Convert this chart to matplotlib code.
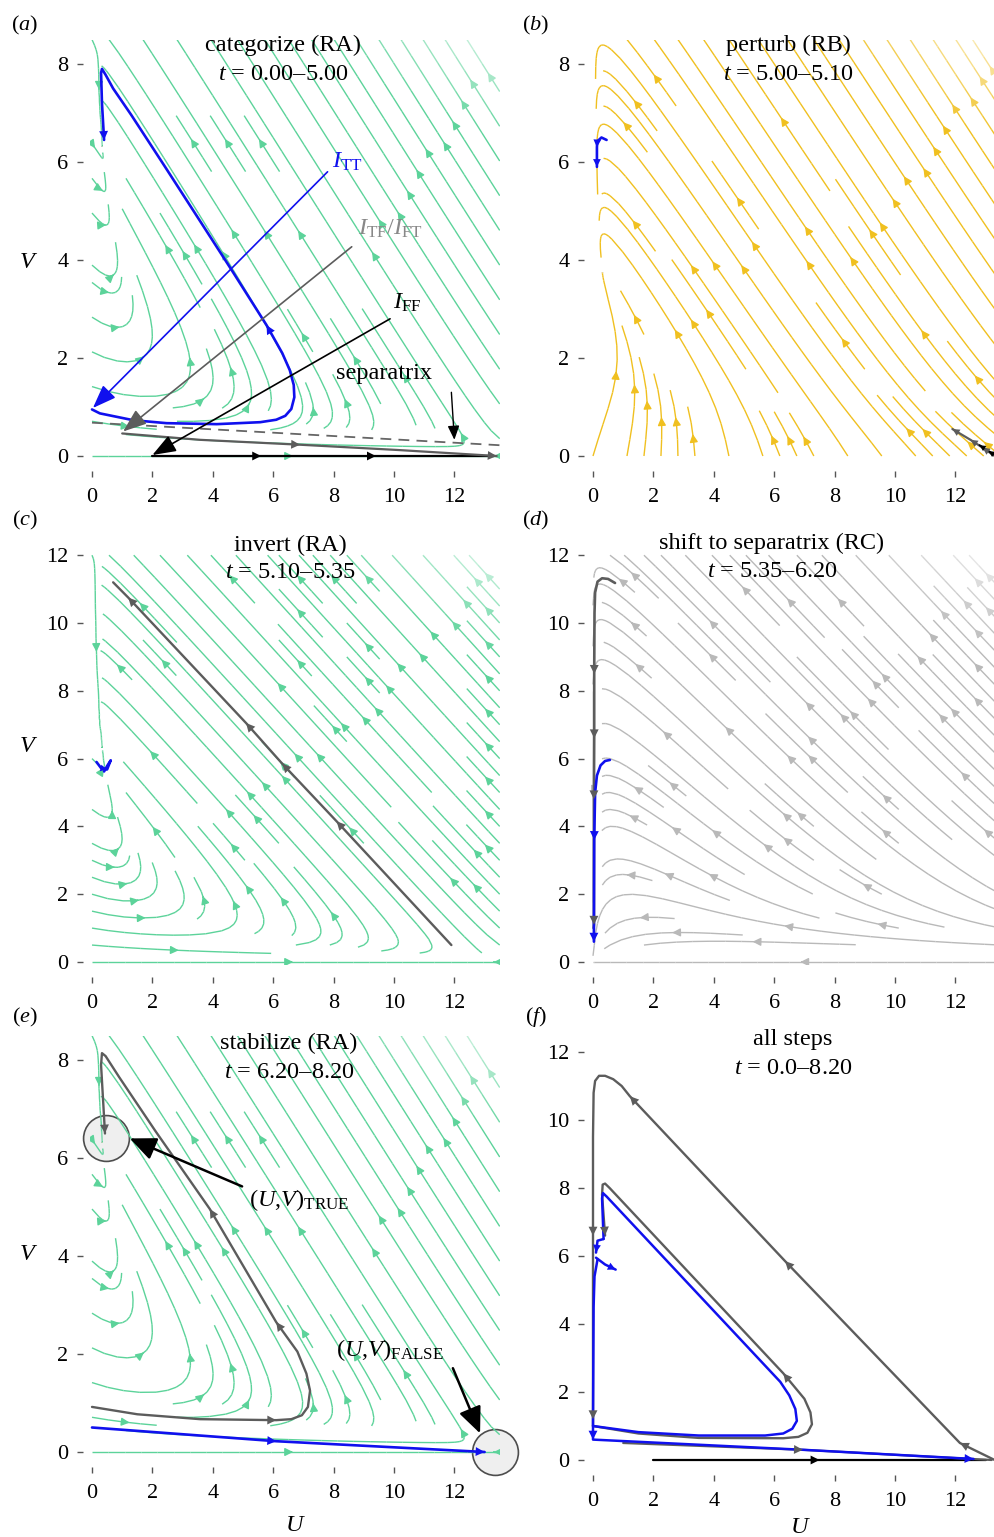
import numpy as np
import matplotlib
matplotlib.use('Agg')
import matplotlib.pyplot as plt
from matplotlib.colors import LinearSegmentedColormap, Normalize, to_rgb

plt.rcParams['font.family'] = ['Liberation Serif', 'DejaVu Serif']
plt.rcParams['mathtext.fontset'] = 'custom'
plt.rcParams['mathtext.rm'] = 'Liberation Serif'
plt.rcParams['mathtext.it'] = 'Liberation Serif:italic'
plt.rcParams['font.size'] = 16

W, H = 995, 1537

# regime parameters (a, b, c, d, e):  dU = a - bU - cUV^2 ,  dV = e + cUV^2 - dV
RA = [13.3, 1.0, 0.93, 2.05, 0.0]
RB = [2.7, 1.0, 0.56, 2.13, 5.6]
RC = [0.0, 3.75, 1.0, 2.5, 0.0]

GREEN = '#5cd39a'
YELLOW = '#f0c020'
LGRAY = '#b9b9b9'
BLUE = '#1010ee'
DGRAY = '#5c5c5c'

# ---- trajectories (U, V) ----
# (a)
a_blue_u = [0.0, 0.26, 1.37, 2.47, 4.13, 5.57, 6.1, 6.4, 6.6, 6.7, 6.68, 6.55, 6.3, 5.78, 4.64, 3.5,
            2.4, 1.3, 0.7, 0.45, 0.33, 0.3, 0.33, 0.40]
a_blue_v = [0.95, 0.87, 0.73, 0.67, 0.65, 0.69, 0.74, 0.82, 0.96, 1.2, 1.45, 1.75, 2.1, 2.67, 3.78, 4.87,
            5.92, 6.96, 7.5, 7.78, 7.9, 7.82, 7.2, 6.45]
a_gray_u = [1.0, 3.58, 6.89, 10.2, 13.4]
a_gray_v = [0.46, 0.33, 0.23, 0.12, 0.0]
a_black_u = [2.0, 5.6, 9.4, 13.3]
a_black_v = [0.0, 0.0, 0.0, 0.0]
sep_u = [0.0, 13.5]
sep_v = [0.68, 0.22]
# pointer arrows: (from U, from V, to U, to V)
ptr_TT = [7.8, 5.8, 0.03, 0.98]
ptr_TF = [8.6, 4.27, 1.03, 0.50]
ptr_FF = [9.87, 2.8, 2.0, 0.02]
ptr_sep = [11.9, 1.3, 12.0, 0.33]

# (b)
b_blue_u = [0.45, 0.28, 0.14, 0.13, 0.13]
b_blue_v = [6.45, 6.5, 6.42, 6.3, 5.9]
b_gray_u = [13.3, 12.9, 12.5, 11.9]
b_gray_v = [0.0, 0.17, 0.33, 0.55]
b_black_u = [13.35, 13.1, 12.8]
b_black_v = [0.0, 0.1, 0.22]

# (c)
c_gray_u = [11.9, 8.1, 6.3, 5.1, 1.2, 0.7]
c_gray_v = [0.5, 4.15, 5.85, 7.05, 10.75, 11.2]
c_blue_u = [0.15, 0.3, 0.5, 0.62, 0.5, 0.4]
c_blue_v = [5.9, 5.72, 5.68, 5.95, 5.78, 5.62]

# (d)
d_gray_u = [0.73, 0.5, 0.3, 0.15, 0.07, 0.05, 0.04, 0.04, 0.03, 0.03, 0.02]
d_gray_v = [11.18, 11.3, 11.32, 11.22, 10.9, 10.3, 8.5, 6.6, 4.8, 1.1, 1.0]
d_blue_u = [0.56, 0.4, 0.25, 0.13, 0.07, 0.04, 0.03, 0.03]
d_blue_v = [5.96, 5.93, 5.8, 5.5, 5.0, 3.6, 1.0, 0.6]

# (e)
e_gray_u = [0.0, 1.5, 3.58, 6.1, 6.6, 6.95, 7.15, 7.22, 7.1, 6.8, 6.1, 3.9, 2.1, 0.9, 0.45, 0.33, 0.3, 0.43]
e_gray_v = [0.92, 0.77, 0.67, 0.65, 0.67, 0.75, 0.92, 1.25, 1.6, 2.05, 2.65, 4.96, 6.55, 7.65, 8.08, 8.14, 7.9, 6.5]
e_blue_u = [0.0, 6.1, 13.0]
e_blue_v = [0.5, 0.22, 0.0]
fp_u = [0.45, 13.35]   # (U,V)_TRUE, (U,V)_FALSE
fp_v = [6.4, 0.0]
ptr_true = [4.97, 5.42, 1.25, 6.4]
ptr_false = [11.95, 1.71, 12.85, 0.38]

# (f)
f_gray1_u = [13.3, 12.15, 6.36, 1.22, 0.95, 0.67, 0.4, 0.2, 0.07, 0.02, 0.0, 0.0, 0.0, 0.0]
f_gray1_v = [0.0, 0.5, 5.85, 10.7, 11.0, 11.2, 11.3, 11.3, 11.15, 10.8, 9.5, 6.6, 1.2, 1.0]
f_gray2_u = [0.0, 1.5, 3.5, 6.3, 6.8, 7.1, 7.25, 7.2, 7.0, 6.3, 0.55, 0.4, 0.32, 0.3, 0.4]
f_gray2_v = [1.0, 0.78, 0.65, 0.64, 0.68, 0.8, 1.05, 1.4, 1.8, 2.55, 8.0, 8.13, 8.1, 7.8, 6.6]
f_gray3_u = [1.0, 6.95, 13.2]
f_gray3_v = [0.5, 0.3, 0.0]
f_blue1_u = [0.0, 1.5, 3.5, 5.7, 6.3, 6.6, 6.75, 6.7, 6.5, 6.2, 0.45, 0.33, 0.3, 0.35]
f_blue1_v = [1.0, 0.82, 0.72, 0.72, 0.78, 0.92, 1.15, 1.5, 1.9, 2.3, 7.75, 7.85, 7.7, 6.5]
f_blue2_u = [0.35, 0.15, 0.1]
f_blue2_v = [6.5, 6.45, 6.1]
f_blue3_u = [0.1, 0.4, 0.75]
f_blue3_v = [5.95, 5.75, 5.6]
f_blue4_u = [0.15, 0.05, 0.02, 0.0, 0.0, 6.95, 12.6]
f_blue4_v = [5.9, 5.4, 4.5, 1.0, 0.6, 0.3, 0.03]
f_black_u = [2.0, 7.5, 13.0]
f_black_v = [0.0, 0.0, 0.0]


def field(U, V, p):
    a, b, c, d, e = p
    r = c * U * V ** 2
    return a - b * U - r, e + r - d * V


def make_ax(x0, y0, sx, sy, xlim, ylim, yticks):
    left = x0 + xlim[0] * sx
    bot = y0 - ylim[0] * sy
    top = y0 - ylim[1] * sy
    ax = fig.add_axes([left / W, 1 - bot / H, (xlim[1] - xlim[0]) * sx / W, (bot - top) / H])
    ax.set_xlim(*xlim)
    ax.set_ylim(*ylim)
    for s in ax.spines.values():
        s.set_visible(False)
    ax.spines['left'].set_position(('outward', 5.5))
    ax.spines['bottom'].set_position(('outward', 8))
    ax.set_xticks(range(0, 13, 2))
    ax.set_yticks(yticks)
    ax.tick_params(length=4.3, width=1, color='#555555', labelsize=16)
    ax.tick_params(axis='y', pad=6)
    ax.tick_params(axis='x', pad=8)
    ax.patch.set_alpha(0)
    return ax


def stream(ax, p, ymax, base, dens=0.85):
    u = np.linspace(0, 13.5, 140)
    v = np.linspace(0, ymax, 140)
    UU, VV = np.meshgrid(u, v)
    du, dv = field(UU, VV, p)
    spd = np.hypot(du, dv)
    rgb = np.array(to_rgb(base))
    light = tuple(0.2 * rgb + 0.8)
    cmap = LinearSegmentedColormap.from_list('fade', [(0, tuple(rgb)), (0.55, tuple(rgb)), (1, light)])
    ax.streamplot(UU, VV, du, dv, color=spd, cmap=cmap, norm=Normalize(0, spd.max()),
                  density=dens, linewidth=1.0, arrowsize=1.2, zorder=1)


def path(ax, u, v, color, lw=1.7, arrows=(), ms=16, z=5, ls='-'):
    ax.plot(u, v, color=color, lw=lw, ls=ls, zorder=z, solid_capstyle='round',
            solid_joinstyle='round', dash_capstyle='butt')
    pts = ax.transData.transform(np.column_stack([u, v]))
    inv = ax.transData.inverted()
    for i in arrows:
        i = i % len(u)
        p1 = pts[i]
        dvec = pts[i] - pts[i - 1]
        dvec = dvec / np.hypot(*dvec)
        p0 = inv.transform(p1 - 8 * dvec)
        ax.annotate('', xy=(u[i], v[i]), xytext=p0,
                    arrowprops=dict(arrowstyle='-|>', color=color, lw=0, mutation_scale=ms,
                                    shrinkA=0, shrinkB=0), zorder=z + 1)


def pointer(ax, p, color, lw=1.2, hl=0.8, hw=0.3, ms=18):
    ax.annotate('', xy=(p[2], p[3]), xytext=(p[0], p[1]),
                arrowprops=dict(arrowstyle='-|>,head_length=%g,head_width=%g' % (hl, hw),
                                color=color, lw=lw, mutation_scale=ms, shrinkA=0, shrinkB=0),
                zorder=7)


def ftext(x, y, s, size=17.5, **kw):
    fig.text(x / W, 1 - y / H, s, ha='center', va='center', fontsize=size, **kw)


fig = plt.figure(figsize=(W / 100, H / 100), dpi=100)

ax_a = make_ax(92, 456, 30.2, 49, (-0.05, 13.5), (-0.08, 8.5), range(0, 9, 2))
ax_b = make_ax(593, 456, 30.2, 49, (-0.05, 13.5), (-0.08, 8.5), range(0, 9, 2))
ax_c = make_ax(92, 962, 30.2, 33.9, (-0.05, 13.5), (-0.1, 12.1), range(0, 13, 2))
ax_d = make_ax(593, 962, 30.2, 33.9, (-0.05, 13.5), (-0.1, 12.1), range(0, 13, 2))
ax_e = make_ax(92, 1452, 30.2, 49, (-0.05, 13.5), (-0.08, 8.5), range(0, 9, 2))
ax_f = make_ax(593, 1460, 30.2, 34, (-0.05, 13.5), (-0.1, 12.1), range(0, 13, 2))

# streamlines
stream(ax_a, RA, 8.5, GREEN)
stream(ax_b, RB, 8.5, YELLOW)
stream(ax_c, RA, 12.0, GREEN)
stream(ax_d, RC, 12.0, LGRAY)
stream(ax_e, RA, 8.5, GREEN)

# (a)
ax_a.plot(sep_u, sep_v, color='#666666', lw=1.3, ls=(0, (6, 4)), zorder=3)
path(ax_a, a_black_u, a_black_v, 'black', lw=1.6, arrows=[1, 2])
path(ax_a, a_gray_u, a_gray_v, DGRAY, lw=1.6, arrows=[2, 4])
path(ax_a, a_blue_u, a_blue_v, BLUE, lw=1.9, arrows=[13, -1])
pointer(ax_a, ptr_TT, BLUE)
pointer(ax_a, ptr_TF, DGRAY)
pointer(ax_a, ptr_FF, 'black')
pointer(ax_a, ptr_sep, 'black', lw=1.0, hl=0.6, hw=0.25, ms=14)
ax_a.text(8.45, 6.0, r'$I_{\mathrm{TT}}$', color=BLUE, ha='center', va='center', fontsize=17.5)
ax_a.text(9.87, 4.63, r'$I_{\mathrm{TF}}/I_{\mathrm{FT}}$', color='#888888', ha='center', va='center', fontsize=17.5)
ax_a.text(10.43, 3.12, r'$I_{\mathrm{FF}}$', color='black', ha='center', va='center', fontsize=17.5)
ax_a.text(9.67, 1.69, 'separatrix', ha='center', va='center', fontsize=17.5)

# (b)
path(ax_b, b_gray_u, b_gray_v, DGRAY, lw=1.6, arrows=[1, 2, 3], ms=13)
path(ax_b, b_black_u, b_black_v, 'black', lw=1.4, arrows=[1, 2], ms=11)
path(ax_b, b_blue_u, b_blue_v, BLUE, lw=1.9, arrows=[3, 4], ms=14)

# (c)
path(ax_c, c_gray_u, c_gray_v, DGRAY, lw=1.7, arrows=[1, 2, 3, 4])
path(ax_c, c_blue_u, c_blue_v, BLUE, lw=1.9, arrows=[2], ms=12)

# (d)
path(ax_d, d_gray_u, d_gray_v, DGRAY, lw=1.9, arrows=[6, 7, 8, 9])
path(ax_d, d_blue_u, d_blue_v, BLUE, lw=1.9, arrows=[5, 7])

# (e)
ax_e.plot(fp_u, fp_v, 'o', ms=33, mfc='#efefef', mec='#444444', mew=1.2, alpha=0.95,
          zorder=0.5, clip_on=False)
path(ax_e, e_gray_u, e_gray_v, DGRAY, lw=1.7, arrows=[3, 10, 11, -1])
path(ax_e, e_blue_u, e_blue_v, BLUE, lw=1.9, arrows=[1, 2])
pointer(ax_e, ptr_true, 'black', lw=1.8, hl=0.8, hw=0.35, ms=20)
pointer(ax_e, ptr_false, 'black', lw=1.8, hl=0.8, hw=0.35, ms=20)
ax_e.text(6.85, 5.14, r'$(U{,}V)_{\mathrm{TRUE}}$', ha='center', va='center', fontsize=17.5)
ax_e.text(9.87, 2.08, r'$(U{,}V)_{\mathrm{FALSE}}$', ha='center', va='center', fontsize=17.5)

# (f)
path(ax_f, f_black_u, f_black_v, 'black', lw=1.6, arrows=[1])
path(ax_f, f_gray3_u, f_gray3_v, DGRAY, lw=1.6, arrows=[1])
path(ax_f, f_gray1_u, f_gray1_v, DGRAY, lw=1.7, arrows=[1, 2, 3, 11, 12])
path(ax_f, f_gray2_u, f_gray2_v, DGRAY, lw=1.7, arrows=[9, -1])
path(ax_f, f_blue1_u, f_blue1_v, BLUE, lw=1.8)
path(ax_f, f_blue2_u, f_blue2_v, BLUE, lw=1.8, arrows=[-1], ms=14)
path(ax_f, f_blue3_u, f_blue3_v, BLUE, lw=1.8, arrows=[-1], ms=14)
path(ax_f, f_blue4_u, f_blue4_v, BLUE, lw=1.8, arrows=[4, 6])

# axis labels
for ax, yf in [(ax_a, 0.47), (ax_c, 0.53), (ax_e, 0.48)]:
    ax.text(-0.152, yf, r'$V$', transform=ax.transAxes, ha='center', va='center', fontsize=17.5)
ax_e.text(0.50, -0.165, r'$U$', transform=ax_e.transAxes, ha='center', va='center', fontsize=17.5)
ax_f.text(0.51, -0.155, r'$U$', transform=ax_f.transAxes, ha='center', va='center', fontsize=17.5)

# panel letters and titles
for x, y, s in [(25, 25, 'a'), (536, 25, 'b'), (25, 520, 'c'), (536, 520, 'd'), (25, 1017, 'e'), (536, 1017, 'f')]:
    ftext(x, y, '($%s$)' % s, size=16)

titles = [(283, 45, 'categorize (RA)'), (283, 74, r'$t$ = 0.00–5.00'),
          (788, 45, 'perturb (RB)'), (788, 74, r'$t$ = 5.00–5.10'),
          (290, 545, 'invert (RA)'), (290, 573, r'$t$ = 5.10–5.35'),
          (772, 543, 'shift to separatrix (RC)'), (772, 571, r'$t$ = 5.35–6.20'),
          (289, 1043, 'stabilize (RA)'), (289, 1072, r'$t$ = 6.20–8.20'),
          (793, 1040, 'all steps'), (793, 1068, r'$t$ = 0.0–8.20')]
for x, y, s in titles:
    ftext(x, y, s)

fig.savefig('out.png', dpi=100)
